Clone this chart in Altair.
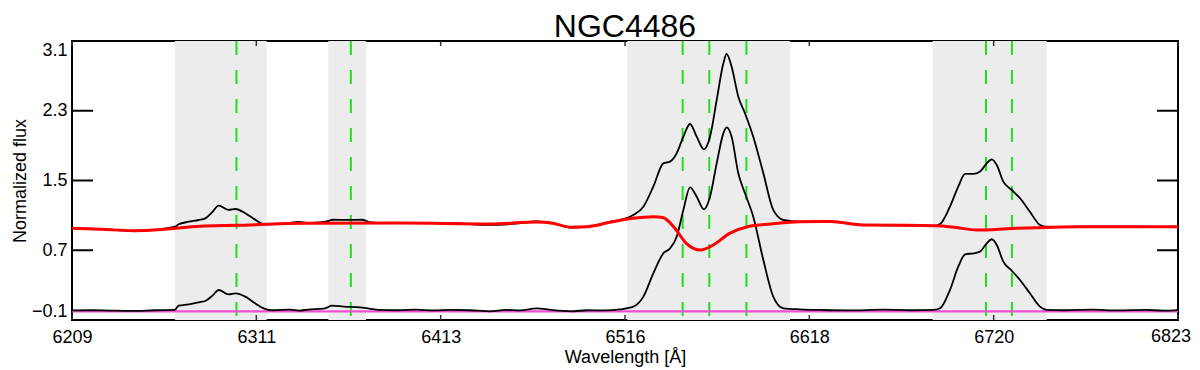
import json
import altair as alt
import pandas as pd

# ---------------- data ----------------
title_text = "NGC4486"
x_title = "Wavelength [Å]"
y_title = "Normalized flux"

x_min, x_max = 6209, 6823
y_min, y_max = -0.1, 3.1
x_ticks = [6209, 6311.33, 6413.67, 6516, 6618.33, 6720.67, 6823]
x_tick_labels = ["6209", "6311", "6413", "6516", "6618", "6720", "6823"]
y_ticks = [-0.1, 0.7, 1.5, 2.3, 3.1]

# shaded fitting windows (Angstrom)
region_start = [6266.2, 6351.3, 6517.3, 6686.8]
region_end = [6317.1, 6372.2, 6607.6, 6750.1]

# emission line centres (green dashed)
line_wl = [6300.3, 6363.8, 6548.0, 6562.8, 6583.4, 6716.4, 6730.8]

# observed spectrum (upper black)
obs_wl = [6209, 6225, 6243, 6255, 6262, 6266.3, 6268.2, 6273.8, 6279.3, 6283.0,
          6287, 6290.4, 6296.0, 6299.7, 6305.2, 6310, 6315.4, 6325, 6335, 6340,
          6349.6, 6354, 6362, 6370, 6374.6, 6385, 6400, 6420, 6441, 6455,
          6467, 6476, 6486, 6495, 6509, 6513.2, 6520.6, 6526.2, 6531.7, 6537.3,
          6541.0, 6544.7, 6548.4, 6552.1, 6555.8, 6559.8, 6563.2, 6566.9, 6570.6, 6572.4,
          6575.2, 6578.9, 6582.6, 6587.2, 6592.8, 6598.3, 6603.9, 6613.2, 6630, 6648,
          6670, 6687.2, 6690.9, 6696.4, 6701.0, 6704.8, 6709.4, 6713.1, 6716.8, 6719.6,
          6722.4, 6726.0, 6730.7, 6735.3, 6740.8, 6746.4, 6750.1, 6760, 6790, 6810, 6823]
obs_flux = [0.952, 0.945, 0.922, 0.930, 0.955, 0.970, 0.998, 1.027, 1.047, 1.066,
            1.140, 1.211, 1.162, 1.173, 1.124, 1.060, 1.001, 1.000, 1.025, 1.012,
            1.027, 1.050, 1.048, 1.050, 1.020, 1.012, 1.013, 1.010, 0.990, 1.005,
            1.030, 1.010, 0.960, 0.968, 1.030, 1.047, 1.104, 1.200, 1.429, 1.697,
            1.716, 1.812, 2.003, 2.148, 2.003, 1.858, 2.003, 2.423, 2.844, 2.951,
            2.805, 2.461, 2.271, 2.003, 1.583, 1.162, 1.047, 1.027, 1.030, 0.990,
            0.985, 0.978, 1.001, 1.200, 1.429, 1.575, 1.575, 1.602, 1.697, 1.743,
            1.678, 1.487, 1.391, 1.296, 1.142, 0.990, 0.970, 0.968, 0.972, 0.968, 0.970]

# stellar continuum model (red)
model_wl = [6209, 6225, 6243, 6260, 6280, 6300, 6338, 6391, 6441, 6467,
            6476, 6486, 6495, 6509, 6520, 6532, 6537, 6543, 6550, 6558,
            6565, 6574, 6584, 6597, 6613, 6630, 6648, 6689, 6700, 6711,
            6731, 6769, 6823]
model_flux = [0.952, 0.940, 0.925, 0.940, 0.975, 0.986, 1.009, 1.012, 1.001, 1.025,
              1.010, 0.965, 0.970, 1.027, 1.066, 1.085, 1.075, 0.970, 0.780, 0.703,
              0.760, 0.894, 0.970, 1.001, 1.027, 1.030, 0.990, 0.982, 0.960, 0.932,
              0.950, 0.970, 0.970]

# pure emission (lower black)
gas_wl = [6209, 6220, 6230, 6243, 6255, 6266, 6268.2, 6273.8, 6279.3, 6283.0,
          6287, 6290.4, 6296.0, 6299.7, 6305.2, 6310, 6315.4, 6320, 6330, 6335,
          6340, 6349.6, 6353.3, 6360, 6368.7, 6374, 6379.3, 6390, 6400, 6410,
          6420, 6430, 6441, 6450, 6458, 6467, 6475, 6486, 6495, 6505,
          6513.2, 6520.6, 6526.2, 6531.7, 6537.3, 6541.0, 6544.7, 6548.4, 6552.1, 6555.8,
          6559.8, 6563.2, 6566.9, 6570.6, 6572.4, 6575.2, 6578.9, 6582.6, 6587.2, 6592.8,
          6598.3, 6603.9, 6613.2, 6625, 6640, 6660, 6675, 6687.2, 6690.9, 6696.4,
          6701.0, 6704.8, 6709.4, 6713.1, 6716.8, 6719.6, 6722.4, 6726.0, 6730.7, 6735.3,
          6740.8, 6746.4, 6750.1, 6760, 6775, 6790, 6805, 6815, 6823]
gas_flux = [0.010, 0.012, 0.008, 0.004, 0.012, 0.015, 0.064, 0.080, 0.103, 0.118,
            0.180, 0.244, 0.195, 0.206, 0.168, 0.100, 0.034, 0.012, 0.018, 0.008,
            0.020, 0.034, 0.064, 0.053, 0.045, 0.030, 0.015, 0.012, 0.018, 0.010,
            0.016, 0.012, 0.000, 0.015, 0.010, 0.034, 0.015, 0.000, 0.012, 0.010,
            0.022, 0.053, 0.168, 0.435, 0.665, 0.722, 0.855, 1.162, 1.422, 1.314,
            1.170, 1.314, 1.697, 2.041, 2.110, 2.003, 1.583, 1.353, 1.085, 0.588,
            0.168, 0.034, 0.022, 0.015, 0.010, 0.018, 0.012, 0.015, 0.034, 0.244,
            0.511, 0.653, 0.665, 0.684, 0.780, 0.826, 0.760, 0.569, 0.466, 0.359,
            0.206, 0.053, 0.015, 0.012, 0.018, 0.010, 0.016, 0.008, 0.014]

zero_wl = [x_min, x_max]
zero_flux = [0.0, 0.0]

# ---------------- chart ----------------
W, H = 1106, 279
FONT = "Liberation Sans"
LABEL_PAD = 8

xs = alt.Scale(domain=[x_min, x_max], nice=False, zero=False)
ys = alt.Scale(domain=[y_min, y_max], nice=False, zero=False)

# all x labels but the last through the axis; the last one (at the very
# right edge) is drawn as a text mark nudged inward so it is not clipped
axis_ticks = x_ticks[:-1]
label_expr = ("[" + ",".join("'%s'" % s for s in x_tick_labels[:-1]) + "][indexof("
              + json.dumps(axis_ticks) + ", datum.value)]")

x_axis = alt.Axis(values=axis_ticks, labelExpr=label_expr, ticks=False, tickSize=0,
                  domain=False, grid=False, labelFont=FONT, labelFontSize=18,
                  labelColor="black", labelPadding=LABEL_PAD, labelFlush=False,
                  title=x_title, titleFont=FONT, titleFontSize=18,
                  titleFontWeight="normal", titleColor="black",
                  titleBaseline="alphabetic", titleY=42.5, titleX=W / 2)
y_axis = alt.Axis(values=y_ticks, format=".1f", ticks=False, tickSize=0,
                  domain=False, grid=False, labelFont=FONT, labelFontSize=18,
                  labelColor="black", labelPadding=5, labelFlush=True,
                  labelFlushOffset=0,
                  title=y_title, titleFont=FONT, titleFontSize=18,
                  titleFontWeight="normal", titleColor="black",
                  titleBaseline="alphabetic", titleAlign="center",
                  titleX=-47, titleY=H / 2)

reg_df = pd.DataFrame({"start": region_start, "end": region_end})
regions = alt.Chart(reg_df).mark_rect(color="#ececec").encode(
    x=alt.X("start:Q", scale=xs, axis=x_axis),
    x2="end:Q",
    y=alt.datum(y_max, scale=ys, axis=y_axis),
    y2=alt.datum(y_min),
)

lines_df = pd.DataFrame({"wl": line_wl})
green = alt.Chart(lines_df).mark_rule(color="#1ee01e", strokeWidth=2,
                                      strokeDash=[14, 15]).encode(
    x=alt.X("wl:Q", scale=xs),
    y=alt.datum(y_max, scale=ys),
    y2=alt.datum(y_min),
)

zero_df = pd.DataFrame({"wl": zero_wl, "flux": zero_flux})
zero = alt.Chart(zero_df).mark_line(color="#f04ed2", strokeWidth=2.2).encode(
    x=alt.X("wl:Q", scale=xs), y=alt.Y("flux:Q", scale=ys))

gas_df = pd.DataFrame({"wl": gas_wl, "flux": gas_flux})
gas = alt.Chart(gas_df).mark_line(color="black", strokeWidth=1.8,
                                  interpolate="monotone").encode(
    x=alt.X("wl:Q", scale=xs), y=alt.Y("flux:Q", scale=ys))

obs_df = pd.DataFrame({"wl": obs_wl, "flux": obs_flux})
obs = alt.Chart(obs_df).mark_line(color="black", strokeWidth=1.8,
                                  interpolate="monotone").encode(
    x=alt.X("wl:Q", scale=xs), y=alt.Y("flux:Q", scale=ys))

model_df = pd.DataFrame({"wl": model_wl, "flux": model_flux})
model = alt.Chart(model_df).mark_line(color="#ff0000", strokeWidth=3,
                                      interpolate="monotone").encode(
    x=alt.X("wl:Q", scale=xs), y=alt.Y("flux:Q", scale=ys))

# inward IDL-style ticks
yt_df = pd.DataFrame({"v": y_ticks})
yt_left = alt.Chart(yt_df).mark_rule(color="black", strokeWidth=2).encode(
    y=alt.Y("v:Q", scale=ys), x=alt.value(0), x2=alt.value(21))
yt_right = alt.Chart(yt_df).mark_rule(color="black", strokeWidth=2).encode(
    y=alt.Y("v:Q", scale=ys), x=alt.value(W - 21), x2=alt.value(W))
xt_df = pd.DataFrame({"v": x_ticks})
xt_bottom = alt.Chart(xt_df).mark_rule(color="#333333", strokeWidth=1.5).encode(
    x=alt.X("v:Q", scale=xs), y=alt.value(H - 5), y2=alt.value(H))
xt_top = alt.Chart(xt_df).mark_rule(color="#333333", strokeWidth=1.5).encode(
    x=alt.X("v:Q", scale=xs), y=alt.value(0), y2=alt.value(5))

# last x tick label
last_df = pd.DataFrame({"v": x_ticks[-1:], "t": x_tick_labels[-1:]})
last_label = alt.Chart(last_df).mark_text(
    font=FONT, fontSize=18, color="black", align="right", baseline="top", dx=13
).encode(x=alt.X("v:Q", scale=xs), y=alt.value(H + LABEL_PAD), text="t:N")

# plot title as a text mark above the frame
title_df = pd.DataFrame({"t": [title_text]})
title = alt.Chart(title_df).mark_text(font=FONT, fontSize=32, color="black",
                                      align="center", baseline="alphabetic").encode(
    text="t:N", x=alt.value(W / 2), y=alt.value(-4))

chart = alt.layer(
    regions, green, zero, gas, obs, model, yt_left, yt_right, xt_bottom, xt_top,
    last_label, title
).properties(
    width=W, height=H,
    autosize=alt.AutoSizeParams(type="none"),
    padding={"left": 64, "top": 33, "right": 14, "bottom": 47},
).configure_view(stroke="black", strokeWidth=2)

chart.save("out.html", embed_options={"renderer": "svg", "actions": False})
